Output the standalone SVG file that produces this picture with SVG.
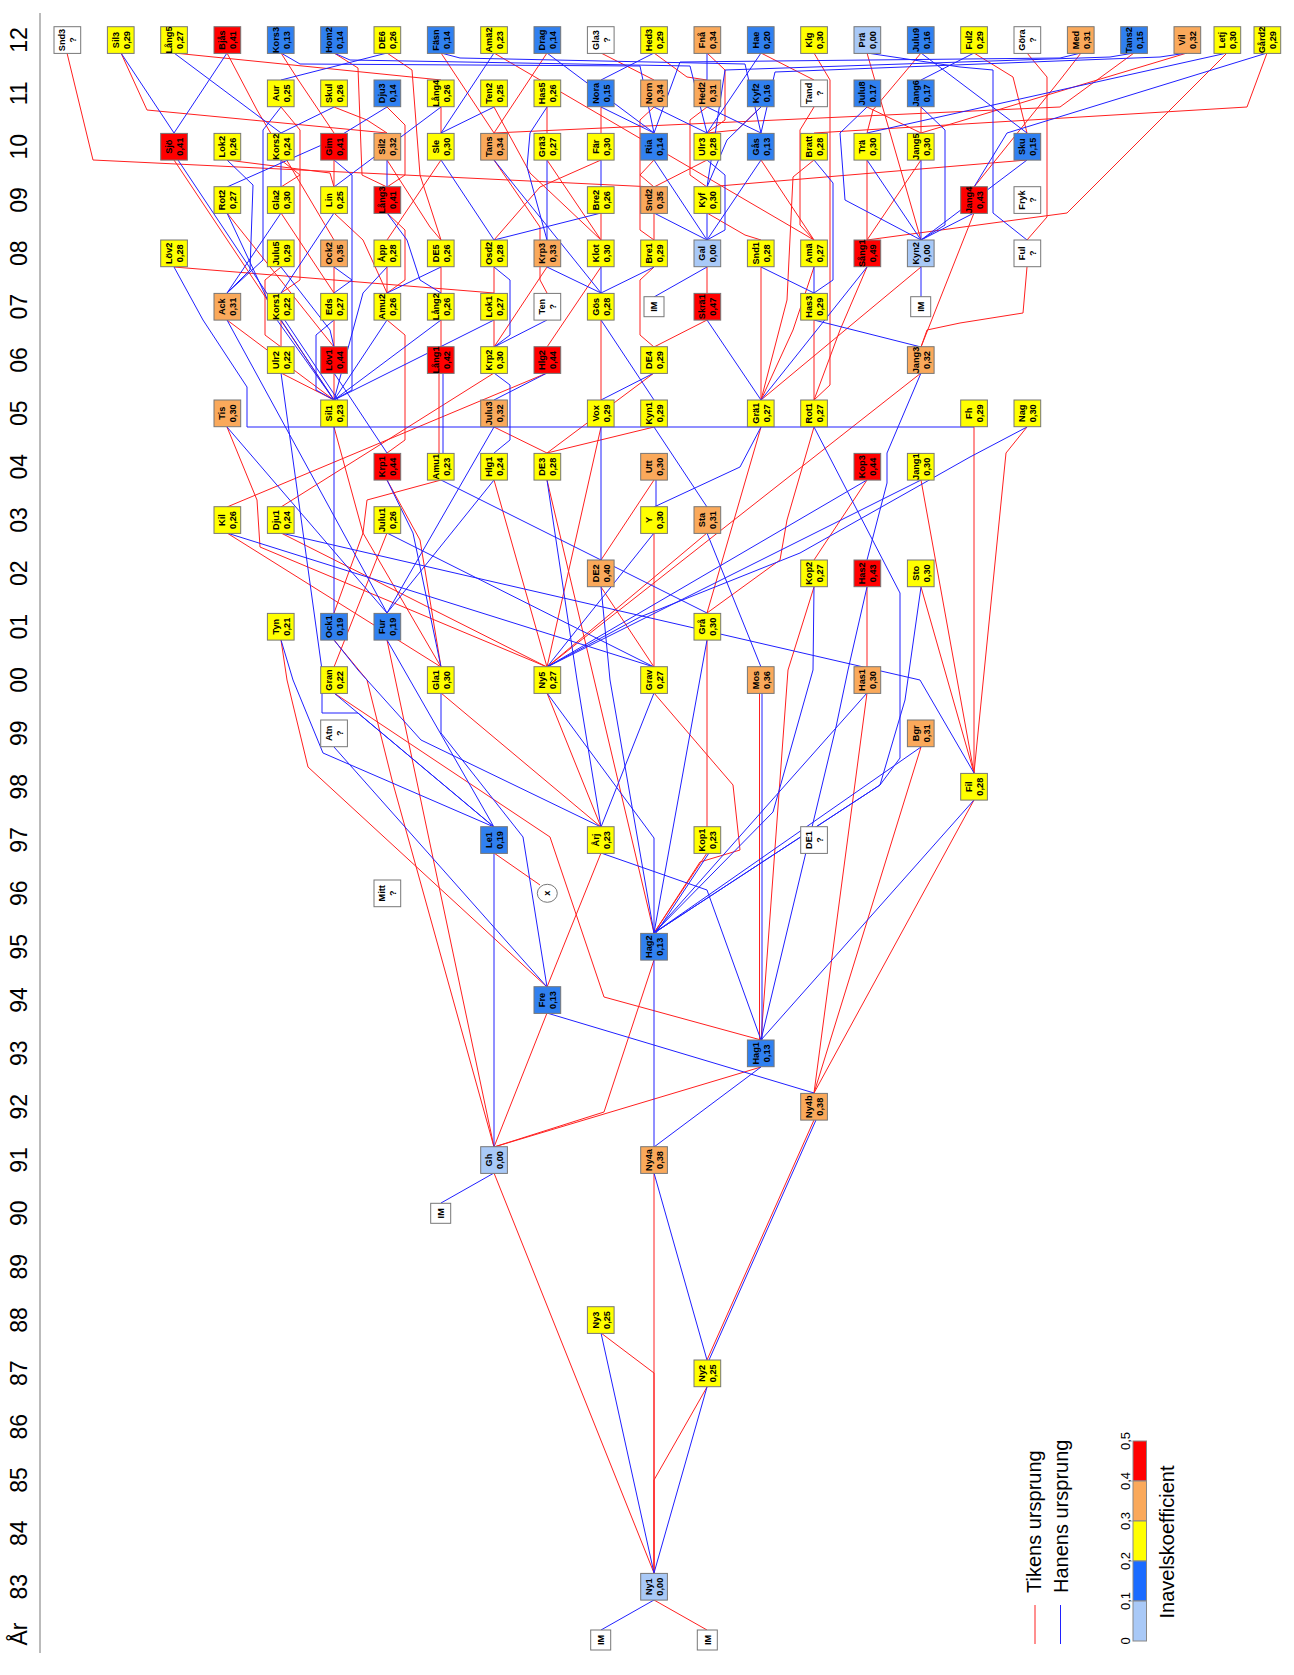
<svg xmlns="http://www.w3.org/2000/svg" width="1294" height="1675" viewBox="0 0 1294 1675">
<style>
.r{fill:none;stroke:#ff2020;stroke-width:1}
.b{fill:none;stroke:#2020ff;stroke-width:1}
.n rect,.n ellipse{stroke:#777;stroke-width:1}
.c0{fill:#a9c9f7}.c1{fill:#3080f0}.c2{fill:#ffff00}.c3{fill:#faa95b}.c4{fill:#ff0000}.cw{fill:#ffffff}
.t{font-family:"Liberation Sans",Arial,sans-serif;font-weight:bold;font-size:9.2px;text-anchor:middle;fill:#000}
.yr{font-family:"Liberation Sans",Arial,sans-serif;font-size:23px;text-anchor:middle;fill:#000}
.lg{font-family:"Liberation Sans",Arial,sans-serif;font-size:20px;fill:#000}
.sc{font-family:"Liberation Sans",Arial,sans-serif;font-size:13px;text-anchor:middle;fill:#000}
</style>
<defs>
<rect id="bx" x="-13.3" y="-13.3" width="26.7" height="26.7"/>
</defs>
<rect width="1294" height="1675" fill="#fff"/>
<g id="axis">
<line x1="40" y1="13" x2="40" y2="1653" stroke="#bbb" stroke-width="2"/>
<text class="yr" transform="translate(26.7,40) rotate(-90)">12</text>
<text class="yr" transform="translate(26.7,93.3) rotate(-90)">11</text>
<text class="yr" transform="translate(26.7,146.7) rotate(-90)">10</text>
<text class="yr" transform="translate(26.7,200) rotate(-90)">09</text>
<text class="yr" transform="translate(26.7,253.3) rotate(-90)">08</text>
<text class="yr" transform="translate(26.7,306.7) rotate(-90)">07</text>
<text class="yr" transform="translate(26.7,360) rotate(-90)">06</text>
<text class="yr" transform="translate(26.7,413.3) rotate(-90)">05</text>
<text class="yr" transform="translate(26.7,466.7) rotate(-90)">04</text>
<text class="yr" transform="translate(26.7,520) rotate(-90)">03</text>
<text class="yr" transform="translate(26.7,573.3) rotate(-90)">02</text>
<text class="yr" transform="translate(26.7,626.7) rotate(-90)">01</text>
<text class="yr" transform="translate(26.7,680) rotate(-90)">00</text>
<text class="yr" transform="translate(26.7,733.3) rotate(-90)">99</text>
<text class="yr" transform="translate(26.7,786.7) rotate(-90)">98</text>
<text class="yr" transform="translate(26.7,840) rotate(-90)">97</text>
<text class="yr" transform="translate(26.7,893.3) rotate(-90)">96</text>
<text class="yr" transform="translate(26.7,946.7) rotate(-90)">95</text>
<text class="yr" transform="translate(26.7,1000) rotate(-90)">94</text>
<text class="yr" transform="translate(26.7,1053.3) rotate(-90)">93</text>
<text class="yr" transform="translate(26.7,1106.7) rotate(-90)">92</text>
<text class="yr" transform="translate(26.7,1160) rotate(-90)">91</text>
<text class="yr" transform="translate(26.7,1213.3) rotate(-90)">90</text>
<text class="yr" transform="translate(26.7,1266.7) rotate(-90)">89</text>
<text class="yr" transform="translate(26.7,1320) rotate(-90)">88</text>
<text class="yr" transform="translate(26.7,1373.3) rotate(-90)">87</text>
<text class="yr" transform="translate(26.7,1426.7) rotate(-90)">86</text>
<text class="yr" transform="translate(26.7,1480) rotate(-90)">85</text>
<text class="yr" transform="translate(26.7,1533.3) rotate(-90)">84</text>
<text class="yr" transform="translate(26.7,1586.7) rotate(-90)">83</text>
<text class="yr" transform="translate(26.7,1634) rotate(-90)">År</text>
</g>
<g id="connectors">
<polyline class="r" points="67,53 93,160 654,187"/>
<polyline class="r" points="121,53 147,110 387,133"/>
<polyline class="r" points="174,53 441,80"/>
<polyline class="r" points="227,53 257,110 334,240"/>
<polyline class="r" points="281,53 297,78 334,133"/>
<polyline class="r" points="334,53 358,68 362,175 387,187"/>
<polyline class="r" points="387,53 412,70 420,175 441,240"/>
<polyline class="r" points="441,53 494,133"/>
<polyline class="r" points="494,53 814,240"/>
<polyline class="r" points="547,53 494,133"/>
<polyline class="r" points="601,53 654,80"/>
<polyline class="r" points="654,53 687,77 707,80"/>
<polyline class="r" points="707,53 725,70 725,120 707,133"/>
<polyline class="r" points="761,53 814,80"/>
<polyline class="r" points="814,53 830,80 830,385 814,400"/>
<polyline class="r" points="867,53 921,240"/>
<polyline class="r" points="921,53 873,110 867,133"/>
<polyline class="r" points="974,53 1013,77 1027,133"/>
<polyline class="r" points="1027,53 1047,77 1047,217 1027,240"/>
<polyline class="r" points="1081,53 1060,80 974,187"/>
<polyline class="r" points="1134,53 1060,107 494,133"/>
<polyline class="r" points="1187,53 921,133"/>
<polyline class="r" points="1227,53 1067,213 867,240"/>
<polyline class="r" points="1267,53 1247,107 814,133"/>
<polyline class="r" points="281,107 300,130 300,175 281,187"/>
<polyline class="r" points="334,107 367,120 387,133"/>
<polyline class="r" points="387,107 405,125 405,175 387,187"/>
<polyline class="r" points="441,107 441,133"/>
<polyline class="r" points="494,107 530,173 601,240"/>
<polyline class="r" points="547,107 547,133"/>
<polyline class="r" points="601,107 601,133"/>
<polyline class="r" points="654,107 640,120 640,175 654,187"/>
<polyline class="r" points="707,107 690,120 690,175 707,187"/>
<polyline class="r" points="761,107 737,130 707,133"/>
<polyline class="r" points="814,107 800,130 800,225 814,240"/>
<polyline class="r" points="867,107 921,133"/>
<polyline class="r" points="921,107 921,133"/>
<polyline class="r" points="174,160 334,400"/>
<polyline class="r" points="227,160 330,173 334,187"/>
<polyline class="r" points="281,160 300,175 300,280 281,293"/>
<polyline class="r" points="334,160 334,187"/>
<polyline class="r" points="387,160 430,227 441,240"/>
<polyline class="r" points="441,160 387,240"/>
<polyline class="r" points="494,160 540,227 540,280 547,293"/>
<polyline class="r" points="547,160 601,240"/>
<polyline class="r" points="601,160 540,187 494,240"/>
<polyline class="r" points="654,160 640,175 640,230 654,240"/>
<polyline class="r" points="707,160 654,187"/>
<polyline class="r" points="761,160 814,240"/>
<polyline class="r" points="814,160 793,177 787,300 761,400"/>
<polyline class="r" points="867,160 867,240"/>
<polyline class="r" points="921,160 867,240"/>
<polyline class="r" points="1027,160 707,187"/>
<polyline class="r" points="227,213 334,347"/>
<polyline class="r" points="281,213 334,293"/>
<polyline class="r" points="334,213 363,240 387,293"/>
<polyline class="r" points="387,213 405,230 405,280 387,293"/>
<polyline class="r" points="601,213 601,240"/>
<polyline class="r" points="654,213 654,240"/>
<polyline class="r" points="707,213 745,235 761,240"/>
<polyline class="r" points="974,213 921,347"/>
<polyline class="r" points="174,267 494,293"/>
<polyline class="r" points="281,267 265,280 265,335 281,347"/>
<polyline class="r" points="334,267 334,293"/>
<polyline class="r" points="387,267 387,293"/>
<polyline class="r" points="441,267 441,293"/>
<polyline class="r" points="494,267 494,293"/>
<polyline class="r" points="547,267 494,347"/>
<polyline class="r" points="601,267 547,347"/>
<polyline class="r" points="654,267 640,280 640,335 654,347"/>
<polyline class="r" points="707,267 707,293"/>
<polyline class="r" points="761,267 761,400"/>
<polyline class="r" points="814,267 793,330 761,400"/>
<polyline class="r" points="867,267 840,330 814,400"/>
<polyline class="r" points="921,267 761,400"/>
<polyline class="r" points="1027,267 1023,313 960,323 927,330 921,347"/>
<polyline class="r" points="227,320 334,400"/>
<polyline class="r" points="281,320 281,347"/>
<polyline class="r" points="334,320 334,347"/>
<polyline class="r" points="387,320 405,335 405,440 387,453"/>
<polyline class="r" points="441,320 441,347"/>
<polyline class="r" points="494,320 494,347"/>
<polyline class="r" points="601,320 601,400"/>
<polyline class="r" points="707,320 654,347"/>
<polyline class="r" points="814,320 814,400"/>
<polyline class="r" points="281,373 334,400"/>
<polyline class="r" points="334,373 334,400"/>
<polyline class="r" points="439,373 439,453"/>
<polyline class="r" points="494,373 281,507"/>
<polyline class="r" points="547,373 227,507"/>
<polyline class="r" points="654,373 547,453"/>
<polyline class="r" points="921,373 547,667"/>
<polyline class="r" points="227,427 257,500 260,547 547,667"/>
<polyline class="r" points="334,427 363,533 441,667"/>
<polyline class="r" points="494,427 547,453"/>
<polyline class="r" points="601,427 547,667"/>
<polyline class="r" points="654,427 547,453"/>
<polyline class="r" points="761,427 707,613"/>
<polyline class="r" points="814,427 787,520 780,560 707,613"/>
<polyline class="r" points="974,427 974,773"/>
<polyline class="r" points="1027,427 1006,453 974,773"/>
<polyline class="r" points="387,480 420,540 441,667"/>
<polyline class="r" points="441,480 367,500 363,533 334,613"/>
<polyline class="r" points="494,480 547,667"/>
<polyline class="r" points="547,480 654,933"/>
<polyline class="r" points="654,480 601,560"/>
<polyline class="r" points="867,480 814,560"/>
<polyline class="r" points="921,480 974,773"/>
<polyline class="r" points="227,533 441,667"/>
<polyline class="r" points="281,533 547,667"/>
<polyline class="r" points="387,533 334,667"/>
<polyline class="r" points="654,533 654,667"/>
<polyline class="r" points="707,533 547,667"/>
<polyline class="r" points="601,587 654,667"/>
<polyline class="r" points="814,587 788,670 761,1040"/>
<polyline class="r" points="867,587 867,667"/>
<polyline class="r" points="921,587 974,773"/>
<polyline class="r" points="281,640 287,680 308,767 547,987"/>
<polyline class="r" points="334,640 367,680 392,780 494,1147"/>
<polyline class="r" points="387,640 494,1147"/>
<polyline class="r" points="707,640 707,827"/>
<polyline class="r" points="334,693 550,837 604,997 761,1040"/>
<polyline class="r" points="441,693 601,827"/>
<polyline class="r" points="547,693 601,827"/>
<polyline class="r" points="654,693 733,785 740,850 700,862 654,933"/>
<polyline class="r" points="759.5,693 759.5,1040"/>
<polyline class="r" points="867,693 814,1093"/>
<polyline class="r" points="921,747 814,1093"/>
<polyline class="r" points="974,800 814,1093"/>
<polyline class="r" points="494,853 540,885"/>
<polyline class="r" points="601,853 547,987"/>
<polyline class="r" points="707,853 654,933"/>
<polyline class="r" points="654,960 604,1112 494,1147"/>
<polyline class="r" points="547,1013 494,1147"/>
<polyline class="r" points="761,1067 494,1147"/>
<polyline class="r" points="814,1120 707,1360"/>
<polyline class="r" points="494,1173 654,1573"/>
<polyline class="r" points="654,1173 654,1573"/>
<polyline class="r" points="601,1333 654,1373 654,1573"/>
<polyline class="r" points="707,1387 654,1480 654,1573"/>
<polyline class="r" points="654,1600 707,1630"/>
<polyline class="b" points="121,53 174,133"/>
<polyline class="b" points="174,53 281,133"/>
<polyline class="b" points="227,53 174,133"/>
<polyline class="b" points="281,53 300,64 640,66 654,133"/>
<polyline class="b" points="334,53 350,60 690,66 707,133"/>
<polyline class="b" points="387,53 281,80"/>
<polyline class="b" points="441,53 460,58 745,64 761,133"/>
<polyline class="b" points="547,53 654,133"/>
<polyline class="b" points="654,53 601,80"/>
<polyline class="b" points="707,53 707,80"/>
<polyline class="b" points="761,53 707,133"/>
<polyline class="b" points="867,53 960,67 993,70 993,213 1027,240"/>
<polyline class="b" points="921,53 1027,133"/>
<polyline class="b" points="974,53 921,80"/>
<polyline class="b" points="1081,53 1060,58 680,62 654,133"/>
<polyline class="b" points="1134,53 1110,57 725,70 707,187"/>
<polyline class="b" points="1187,53 1160,57 775,72 761,133"/>
<polyline class="b" points="1227,53 867,133"/>
<polyline class="b" points="1267,53 1007,133 974,187"/>
<polyline class="b" points="494,53 441,133"/>
<polyline class="b" points="281,107 263,130 263,260 227,293"/>
<polyline class="b" points="334,107 281,133"/>
<polyline class="b" points="387,107 333,140 227,187"/>
<polyline class="b" points="441,107 334,187"/>
<polyline class="b" points="494,107 441,133"/>
<polyline class="b" points="547,107 530,133 527,167 547,240"/>
<polyline class="b" points="601,107 654,133"/>
<polyline class="b" points="654,107 707,133"/>
<polyline class="b" points="707,107 761,133"/>
<polyline class="b" points="761,107 727,140 707,187"/>
<polyline class="b" points="867,107 840,133 845,200 921,240"/>
<polyline class="b" points="921,107 945,130 945,225 921,240"/>
<polyline class="b" points="178,160 338,400"/>
<polyline class="b" points="227,160 253,185 250,270 227,293"/>
<polyline class="b" points="281,160 281,187"/>
<polyline class="b" points="334,160 352,175 352,280 334,293"/>
<polyline class="b" points="387,160 387,187"/>
<polyline class="b" points="441,160 494,240"/>
<polyline class="b" points="494,160 601,293"/>
<polyline class="b" points="547,160 547,240"/>
<polyline class="b" points="601,160 601,187"/>
<polyline class="b" points="654,160 707,240"/>
<polyline class="b" points="707,160 725,175 725,230 707,240"/>
<polyline class="b" points="761,160 707,240"/>
<polyline class="b" points="814,160 833,183 833,280 814,293"/>
<polyline class="b" points="867,160 921,240"/>
<polyline class="b" points="921,160 921,240"/>
<polyline class="b" points="1027,160 921,240"/>
<polyline class="b" points="227,213 277,320 334,400"/>
<polyline class="b" points="281,213 227,293"/>
<polyline class="b" points="334,213 281,293"/>
<polyline class="b" points="387,213 407,240 420,280 441,293"/>
<polyline class="b" points="601,213 494,240"/>
<polyline class="b" points="654,213 707,240"/>
<polyline class="b" points="707,213 707,240"/>
<polyline class="b" points="974,213 921,240"/>
<polyline class="b" points="174,267 203,320 247,387 247,427 974,427"/>
<polyline class="b" points="281,267 330,330 334,347"/>
<polyline class="b" points="334,267 352,280 352,390 334,400"/>
<polyline class="b" points="387,267 363,293 334,400"/>
<polyline class="b" points="441,267 387,293"/>
<polyline class="b" points="494,267 510,280 510,335 494,347"/>
<polyline class="b" points="547,267 601,293"/>
<polyline class="b" points="601,267 601,293"/>
<polyline class="b" points="654,267 601,293"/>
<polyline class="b" points="707,267 654,297"/>
<polyline class="b" points="761,267 814,293"/>
<polyline class="b" points="814,267 814,293"/>
<polyline class="b" points="867,267 761,400"/>
<polyline class="b" points="921,267 921,297"/>
<polyline class="b" points="227,320 387,613"/>
<polyline class="b" points="281,320 334,400"/>
<polyline class="b" points="334,320 316,335 316,390 334,400"/>
<polyline class="b" points="387,320 334,400"/>
<polyline class="b" points="441,320 334,400"/>
<polyline class="b" points="494,320 334,400"/>
<polyline class="b" points="547,320 494,347"/>
<polyline class="b" points="601,320 654,400"/>
<polyline class="b" points="707,320 761,400"/>
<polyline class="b" points="814,320 921,347"/>
<polyline class="b" points="281,373 322,670 322,713 358,713 494,827"/>
<polyline class="b" points="334,373 387,453"/>
<polyline class="b" points="443,373 443,453"/>
<polyline class="b" points="494,373 510,385 510,440 494,453"/>
<polyline class="b" points="547,373 494,400"/>
<polyline class="b" points="654,373 601,400"/>
<polyline class="b" points="921,373 887,453 887,483 867,560"/>
<polyline class="b" points="227,427 387,613"/>
<polyline class="b" points="334,427 334,613"/>
<polyline class="b" points="494,427 387,613"/>
<polyline class="b" points="601,427 601,560"/>
<polyline class="b" points="654,427 707,507"/>
<polyline class="b" points="761,427 740,467 654,507"/>
<polyline class="b" points="814,427 900,593 900,758 880,785 654,933"/>
<polyline class="b" points="1027,427 970,457 800,553 640,617 547,667"/>
<polyline class="b" points="387,480 413,533 441,667"/>
<polyline class="b" points="441,480 707,613"/>
<polyline class="b" points="494,480 387,613"/>
<polyline class="b" points="547,480 577,680 601,827"/>
<polyline class="b" points="656,480 656,507"/>
<polyline class="b" points="867,480 547,667"/>
<polyline class="b" points="921,480 547,667"/>
<polyline class="b" points="227,533 654,667"/>
<polyline class="b" points="281,533 920,680 974,773"/>
<polyline class="b" points="387,533 654,667"/>
<polyline class="b" points="654,533 547,667"/>
<polyline class="b" points="707,533 761,667"/>
<polyline class="b" points="601,587 610,680 654,933"/>
<polyline class="b" points="814,587 813,670 773,812 654,933"/>
<polyline class="b" points="867,587 848,670 836,727 761,1040"/>
<polyline class="b" points="921,587 905,700 880,785 654,933"/>
<polyline class="b" points="281,640 293,680 323,753 494,827"/>
<polyline class="b" points="334,640 358,670 421,740 601,827"/>
<polyline class="b" points="387,640 494,827"/>
<polyline class="b" points="707,640 654,933"/>
<polyline class="b" points="334,693 494,827"/>
<polyline class="b" points="441,693 441,733 523,837 547,987"/>
<polyline class="b" points="547,693 654,838 654,933"/>
<polyline class="b" points="654,693 601,827"/>
<polyline class="b" points="762,693 762,1040"/>
<polyline class="b" points="867,693 654,933"/>
<polyline class="b" points="334,747 547,987"/>
<polyline class="b" points="921,747 654,933"/>
<polyline class="b" points="974,800 761,1040"/>
<polyline class="b" points="494,853 494,1147"/>
<polyline class="b" points="601,853 707,890 761,1040"/>
<polyline class="b" points="709,853 656,933"/>
<polyline class="b" points="654,960 654,1147"/>
<polyline class="b" points="547,1013 814,1093"/>
<polyline class="b" points="761,1067 654,1147"/>
<polyline class="b" points="816,1120 709,1360"/>
<polyline class="b" points="494,1173 441,1203"/>
<polyline class="b" points="654,1173 707,1360"/>
<polyline class="b" points="601,1333 654,1573"/>
<polyline class="b" points="707,1387 654,1573"/>
<polyline class="b" points="654,1600 601,1630"/>
</g>
<g id="nodes">
<g id="n_Snd3" class="n" transform="translate(67.3,40)"><use href="#bx" class="cw" stroke="#777"/><text class="t" transform="rotate(-90)"><tspan x="0" y="-2">Snd3</tspan><tspan x="0" y="9">?</tspan></text></g>
<g id="n_Sil3" class="n" transform="translate(120.7,40)"><use href="#bx" class="c2" stroke="#777"/><text class="t" transform="rotate(-90)"><tspan x="0" y="-2">Sil3</tspan><tspan x="0" y="9">0,29</tspan></text></g>
<g id="n_Lang5" class="n" transform="translate(174,40)"><use href="#bx" class="c2" stroke="#777"/><text class="t" transform="rotate(-90)"><tspan x="0" y="-2">Lång5</tspan><tspan x="0" y="9">0,27</tspan></text></g>
<g id="n_Bjas" class="n" transform="translate(227.3,40)"><use href="#bx" class="c4" stroke="#777"/><text class="t" transform="rotate(-90)"><tspan x="0" y="-2">Bjås</tspan><tspan x="0" y="9">0,41</tspan></text></g>
<g id="n_Kors3" class="n" transform="translate(280.7,40)"><use href="#bx" class="c1" stroke="#777"/><text class="t" transform="rotate(-90)"><tspan x="0" y="-2">Kors3</tspan><tspan x="0" y="9">0,13</tspan></text></g>
<g id="n_Hom2" class="n" transform="translate(334,40)"><use href="#bx" class="c1" stroke="#777"/><text class="t" transform="rotate(-90)"><tspan x="0" y="-2">Hom2</tspan><tspan x="0" y="9">0,14</tspan></text></g>
<g id="n_DE6" class="n" transform="translate(387.3,40)"><use href="#bx" class="c2" stroke="#777"/><text class="t" transform="rotate(-90)"><tspan x="0" y="-2">DE6</tspan><tspan x="0" y="9">0,26</tspan></text></g>
<g id="n_Fasn" class="n" transform="translate(440.7,40)"><use href="#bx" class="c1" stroke="#777"/><text class="t" transform="rotate(-90)"><tspan x="0" y="-2">Fäsn</tspan><tspan x="0" y="9">0,14</tspan></text></g>
<g id="n_Ama2" class="n" transform="translate(494,40)"><use href="#bx" class="c2" stroke="#777"/><text class="t" transform="rotate(-90)"><tspan x="0" y="-2">Amä2</tspan><tspan x="0" y="9">0,23</tspan></text></g>
<g id="n_Drag" class="n" transform="translate(547.3,40)"><use href="#bx" class="c1" stroke="#777"/><text class="t" transform="rotate(-90)"><tspan x="0" y="-2">Drag</tspan><tspan x="0" y="9">0,14</tspan></text></g>
<g id="n_Gla3" class="n" transform="translate(600.7,40)"><use href="#bx" class="cw" stroke="#777"/><text class="t" transform="rotate(-90)"><tspan x="0" y="-2">Gla3</tspan><tspan x="0" y="9">?</tspan></text></g>
<g id="n_Hed3" class="n" transform="translate(654,40)"><use href="#bx" class="c2" stroke="#777"/><text class="t" transform="rotate(-90)"><tspan x="0" y="-2">Hed3</tspan><tspan x="0" y="9">0,29</tspan></text></g>
<g id="n_Fna" class="n" transform="translate(707.3,40)"><use href="#bx" class="c3" stroke="#777"/><text class="t" transform="rotate(-90)"><tspan x="0" y="-2">Fnå</tspan><tspan x="0" y="9">0,34</tspan></text></g>
<g id="n_Hae" class="n" transform="translate(760.7,40)"><use href="#bx" class="c1" stroke="#777"/><text class="t" transform="rotate(-90)"><tspan x="0" y="-2">Hae</tspan><tspan x="0" y="9">0,20</tspan></text></g>
<g id="n_Klg" class="n" transform="translate(814,40)"><use href="#bx" class="c2" stroke="#777"/><text class="t" transform="rotate(-90)"><tspan x="0" y="-2">Klg</tspan><tspan x="0" y="9">0,30</tspan></text></g>
<g id="n_Pra" class="n" transform="translate(867.3,40)"><use href="#bx" class="c0" stroke="#777"/><text class="t" transform="rotate(-90)"><tspan x="0" y="-2">Prä</tspan><tspan x="0" y="9">0,00</tspan></text></g>
<g id="n_Julu9" class="n" transform="translate(920.7,40)"><use href="#bx" class="c1" stroke="#777"/><text class="t" transform="rotate(-90)"><tspan x="0" y="-2">Julu9</tspan><tspan x="0" y="9">0,16</tspan></text></g>
<g id="n_Ful2" class="n" transform="translate(974,40)"><use href="#bx" class="c2" stroke="#777"/><text class="t" transform="rotate(-90)"><tspan x="0" y="-2">Ful2</tspan><tspan x="0" y="9">0,29</tspan></text></g>
<g id="n_Gora" class="n" transform="translate(1027.3,40)"><use href="#bx" class="cw" stroke="#777"/><text class="t" transform="rotate(-90)"><tspan x="0" y="-2">Göra</tspan><tspan x="0" y="9">?</tspan></text></g>
<g id="n_Med" class="n" transform="translate(1080.7,40)"><use href="#bx" class="c3" stroke="#777"/><text class="t" transform="rotate(-90)"><tspan x="0" y="-2">Med</tspan><tspan x="0" y="9">0,31</tspan></text></g>
<g id="n_Tans2" class="n" transform="translate(1134,40)"><use href="#bx" class="c1" stroke="#777"/><text class="t" transform="rotate(-90)"><tspan x="0" y="-2">Tans2</tspan><tspan x="0" y="9">0,15</tspan></text></g>
<g id="n_Vil" class="n" transform="translate(1187.3,40)"><use href="#bx" class="c3" stroke="#777"/><text class="t" transform="rotate(-90)"><tspan x="0" y="-2">Vil</tspan><tspan x="0" y="9">0,32</tspan></text></g>
<g id="n_Letj" class="n" transform="translate(1227.3,40)"><use href="#bx" class="c2" stroke="#777"/><text class="t" transform="rotate(-90)"><tspan x="0" y="-2">Letj</tspan><tspan x="0" y="9">0,30</tspan></text></g>
<g id="n_Gard2" class="n" transform="translate(1267.3,40)"><use href="#bx" class="c2" stroke="#777"/><text class="t" transform="rotate(-90)"><tspan x="0" y="-2">Gård2</tspan><tspan x="0" y="9">0,29</tspan></text></g>
<g id="n_Aur" class="n" transform="translate(280.7,93.3)"><use href="#bx" class="c2" stroke="#777"/><text class="t" transform="rotate(-90)"><tspan x="0" y="-2">Aur</tspan><tspan x="0" y="9">0,25</tspan></text></g>
<g id="n_Skul" class="n" transform="translate(334,93.3)"><use href="#bx" class="c2" stroke="#777"/><text class="t" transform="rotate(-90)"><tspan x="0" y="-2">Skul</tspan><tspan x="0" y="9">0,26</tspan></text></g>
<g id="n_Dju3" class="n" transform="translate(387.3,93.3)"><use href="#bx" class="c1" stroke="#777"/><text class="t" transform="rotate(-90)"><tspan x="0" y="-2">Dju3</tspan><tspan x="0" y="9">0,14</tspan></text></g>
<g id="n_Lang4" class="n" transform="translate(440.7,93.3)"><use href="#bx" class="c2" stroke="#777"/><text class="t" transform="rotate(-90)"><tspan x="0" y="-2">Lång4</tspan><tspan x="0" y="9">0,26</tspan></text></g>
<g id="n_Ten2" class="n" transform="translate(494,93.3)"><use href="#bx" class="c2" stroke="#777"/><text class="t" transform="rotate(-90)"><tspan x="0" y="-2">Ten2</tspan><tspan x="0" y="9">0,25</tspan></text></g>
<g id="n_Has5" class="n" transform="translate(547.3,93.3)"><use href="#bx" class="c2" stroke="#777"/><text class="t" transform="rotate(-90)"><tspan x="0" y="-2">Has5</tspan><tspan x="0" y="9">0,26</tspan></text></g>
<g id="n_Nora" class="n" transform="translate(600.7,93.3)"><use href="#bx" class="c1" stroke="#777"/><text class="t" transform="rotate(-90)"><tspan x="0" y="-2">Nora</tspan><tspan x="0" y="9">0,15</tspan></text></g>
<g id="n_Norn" class="n" transform="translate(654,93.3)"><use href="#bx" class="c3" stroke="#777"/><text class="t" transform="rotate(-90)"><tspan x="0" y="-2">Norn</tspan><tspan x="0" y="9">0,34</tspan></text></g>
<g id="n_Hed2" class="n" transform="translate(707.3,93.3)"><use href="#bx" class="c3" stroke="#777"/><text class="t" transform="rotate(-90)"><tspan x="0" y="-2">Hed2</tspan><tspan x="0" y="9">0,31</tspan></text></g>
<g id="n_Kyf2" class="n" transform="translate(760.7,93.3)"><use href="#bx" class="c1" stroke="#777"/><text class="t" transform="rotate(-90)"><tspan x="0" y="-2">Kyf2</tspan><tspan x="0" y="9">0,16</tspan></text></g>
<g id="n_Tand" class="n" transform="translate(814,93.3)"><use href="#bx" class="cw" stroke="#777"/><text class="t" transform="rotate(-90)"><tspan x="0" y="-2">Tand</tspan><tspan x="0" y="9">?</tspan></text></g>
<g id="n_Julu8" class="n" transform="translate(867.3,93.3)"><use href="#bx" class="c1" stroke="#777"/><text class="t" transform="rotate(-90)"><tspan x="0" y="-2">Julu8</tspan><tspan x="0" y="9">0.17</tspan></text></g>
<g id="n_Jang6" class="n" transform="translate(920.7,93.3)"><use href="#bx" class="c1" stroke="#777"/><text class="t" transform="rotate(-90)"><tspan x="0" y="-2">Jang6</tspan><tspan x="0" y="9">0,17</tspan></text></g>
<g id="n_Sjo" class="n" transform="translate(174,146.7)"><use href="#bx" class="c4" stroke="#777"/><text class="t" transform="rotate(-90)"><tspan x="0" y="-2">Sjö</tspan><tspan x="0" y="9">0,41</tspan></text></g>
<g id="n_Lok2" class="n" transform="translate(227.3,146.7)"><use href="#bx" class="c2" stroke="#777"/><text class="t" transform="rotate(-90)"><tspan x="0" y="-2">Lok2</tspan><tspan x="0" y="9">0,26</tspan></text></g>
<g id="n_Kors2" class="n" transform="translate(280.7,146.7)"><use href="#bx" class="c2" stroke="#777"/><text class="t" transform="rotate(-90)"><tspan x="0" y="-2">Kors2</tspan><tspan x="0" y="9">0,24</tspan></text></g>
<g id="n_Gim" class="n" transform="translate(334,146.7)"><use href="#bx" class="c4" stroke="#777"/><text class="t" transform="rotate(-90)"><tspan x="0" y="-2">Gim</tspan><tspan x="0" y="9">0,41</tspan></text></g>
<g id="n_Sil2" class="n" transform="translate(387.3,146.7)"><use href="#bx" class="c3" stroke="#777"/><text class="t" transform="rotate(-90)"><tspan x="0" y="-2">Sil2</tspan><tspan x="0" y="9">0,32</tspan></text></g>
<g id="n_Sle" class="n" transform="translate(440.7,146.7)"><use href="#bx" class="c2" stroke="#777"/><text class="t" transform="rotate(-90)"><tspan x="0" y="-2">Sle</tspan><tspan x="0" y="9">0,30</tspan></text></g>
<g id="n_Tans" class="n" transform="translate(494,146.7)"><use href="#bx" class="c3" stroke="#777"/><text class="t" transform="rotate(-90)"><tspan x="0" y="-2">Tans</tspan><tspan x="0" y="9">0,34</tspan></text></g>
<g id="n_Gra3" class="n" transform="translate(547.3,146.7)"><use href="#bx" class="c2" stroke="#777"/><text class="t" transform="rotate(-90)"><tspan x="0" y="-2">Grä3</tspan><tspan x="0" y="9">0,27</tspan></text></g>
<g id="n_Far" class="n" transform="translate(600.7,146.7)"><use href="#bx" class="c2" stroke="#777"/><text class="t" transform="rotate(-90)"><tspan x="0" y="-2">Fär</tspan><tspan x="0" y="9">0,30</tspan></text></g>
<g id="n_Ria" class="n" transform="translate(654,146.7)"><use href="#bx" class="c1" stroke="#777"/><text class="t" transform="rotate(-90)"><tspan x="0" y="-2">Ria</tspan><tspan x="0" y="9">0,14</tspan></text></g>
<g id="n_Ulr3" class="n" transform="translate(707.3,146.7)"><use href="#bx" class="c2" stroke="#777"/><text class="t" transform="rotate(-90)"><tspan x="0" y="-2">Ulr3</tspan><tspan x="0" y="9">0,28</tspan></text></g>
<g id="n_Gas" class="n" transform="translate(760.7,146.7)"><use href="#bx" class="c1" stroke="#777"/><text class="t" transform="rotate(-90)"><tspan x="0" y="-2">Gås</tspan><tspan x="0" y="9">0,13</tspan></text></g>
<g id="n_Bratt" class="n" transform="translate(814,146.7)"><use href="#bx" class="c2" stroke="#777"/><text class="t" transform="rotate(-90)"><tspan x="0" y="-2">Bratt</tspan><tspan x="0" y="9">0,28</tspan></text></g>
<g id="n_Tra" class="n" transform="translate(867.3,146.7)"><use href="#bx" class="c2" stroke="#777"/><text class="t" transform="rotate(-90)"><tspan x="0" y="-2">Trä</tspan><tspan x="0" y="9">0,30</tspan></text></g>
<g id="n_Jang5" class="n" transform="translate(920.7,146.7)"><use href="#bx" class="c2" stroke="#777"/><text class="t" transform="rotate(-90)"><tspan x="0" y="-2">Jang5</tspan><tspan x="0" y="9">0,30</tspan></text></g>
<g id="n_Sku" class="n" transform="translate(1027.3,146.7)"><use href="#bx" class="c1" stroke="#777"/><text class="t" transform="rotate(-90)"><tspan x="0" y="-2">Sku</tspan><tspan x="0" y="9">0,15</tspan></text></g>
<g id="n_Rot2" class="n" transform="translate(227.3,200)"><use href="#bx" class="c2" stroke="#777"/><text class="t" transform="rotate(-90)"><tspan x="0" y="-2">Rot2</tspan><tspan x="0" y="9">0,27</tspan></text></g>
<g id="n_Gla2" class="n" transform="translate(280.7,200)"><use href="#bx" class="c2" stroke="#777"/><text class="t" transform="rotate(-90)"><tspan x="0" y="-2">Gla2</tspan><tspan x="0" y="9">0,30</tspan></text></g>
<g id="n_Lin" class="n" transform="translate(334,200)"><use href="#bx" class="c2" stroke="#777"/><text class="t" transform="rotate(-90)"><tspan x="0" y="-2">Lin</tspan><tspan x="0" y="9">0,25</tspan></text></g>
<g id="n_Lang3" class="n" transform="translate(387.3,200)"><use href="#bx" class="c4" stroke="#777"/><text class="t" transform="rotate(-90)"><tspan x="0" y="-2">Lång3</tspan><tspan x="0" y="9">0,41</tspan></text></g>
<g id="n_Bre2" class="n" transform="translate(600.7,200)"><use href="#bx" class="c2" stroke="#777"/><text class="t" transform="rotate(-90)"><tspan x="0" y="-2">Bre2</tspan><tspan x="0" y="9">0,26</tspan></text></g>
<g id="n_Snd2" class="n" transform="translate(654,200)"><use href="#bx" class="c3" stroke="#777"/><text class="t" transform="rotate(-90)"><tspan x="0" y="-2">Snd2</tspan><tspan x="0" y="9">0,35</tspan></text></g>
<g id="n_Kyf" class="n" transform="translate(707.3,200)"><use href="#bx" class="c2" stroke="#777"/><text class="t" transform="rotate(-90)"><tspan x="0" y="-2">Kyf</tspan><tspan x="0" y="9">0,30</tspan></text></g>
<g id="n_Jang4" class="n" transform="translate(974,200)"><use href="#bx" class="c4" stroke="#777"/><text class="t" transform="rotate(-90)"><tspan x="0" y="-2">Jang4</tspan><tspan x="0" y="9">0,43</tspan></text></g>
<g id="n_Fryk" class="n" transform="translate(1027.3,200)"><use href="#bx" class="cw" stroke="#777"/><text class="t" transform="rotate(-90)"><tspan x="0" y="-2">Fryk</tspan><tspan x="0" y="9">?</tspan></text></g>
<g id="n_Lov2" class="n" transform="translate(174,253.3)"><use href="#bx" class="c2" stroke="#777"/><text class="t" transform="rotate(-90)"><tspan x="0" y="-2">Löv2</tspan><tspan x="0" y="9">0,28</tspan></text></g>
<g id="n_Julu5" class="n" transform="translate(280.7,253.3)"><use href="#bx" class="c2" stroke="#777"/><text class="t" transform="rotate(-90)"><tspan x="0" y="-2">Julu5</tspan><tspan x="0" y="9">0,29</tspan></text></g>
<g id="n_Ock2" class="n" transform="translate(334,253.3)"><use href="#bx" class="c3" stroke="#777"/><text class="t" transform="rotate(-90)"><tspan x="0" y="-2">Ock2</tspan><tspan x="0" y="9">0,35</tspan></text></g>
<g id="n_App" class="n" transform="translate(387.3,253.3)"><use href="#bx" class="c2" stroke="#777"/><text class="t" transform="rotate(-90)"><tspan x="0" y="-2">Åpp</tspan><tspan x="0" y="9">0,28</tspan></text></g>
<g id="n_DE5" class="n" transform="translate(440.7,253.3)"><use href="#bx" class="c2" stroke="#777"/><text class="t" transform="rotate(-90)"><tspan x="0" y="-2">DE5</tspan><tspan x="0" y="9">0,26</tspan></text></g>
<g id="n_Osd2" class="n" transform="translate(494,253.3)"><use href="#bx" class="c2" stroke="#777"/><text class="t" transform="rotate(-90)"><tspan x="0" y="-2">Osd2</tspan><tspan x="0" y="9">0,28</tspan></text></g>
<g id="n_Krp3" class="n" transform="translate(547.3,253.3)"><use href="#bx" class="c3" stroke="#777"/><text class="t" transform="rotate(-90)"><tspan x="0" y="-2">Krp3</tspan><tspan x="0" y="9">0,33</tspan></text></g>
<g id="n_Klot" class="n" transform="translate(600.7,253.3)"><use href="#bx" class="c2" stroke="#777"/><text class="t" transform="rotate(-90)"><tspan x="0" y="-2">Klot</tspan><tspan x="0" y="9">0,30</tspan></text></g>
<g id="n_Bre1" class="n" transform="translate(654,253.3)"><use href="#bx" class="c2" stroke="#777"/><text class="t" transform="rotate(-90)"><tspan x="0" y="-2">Bre1</tspan><tspan x="0" y="9">0,29</tspan></text></g>
<g id="n_Gal" class="n" transform="translate(707.3,253.3)"><use href="#bx" class="c0" stroke="#777"/><text class="t" transform="rotate(-90)"><tspan x="0" y="-2">Gal</tspan><tspan x="0" y="9">0,00</tspan></text></g>
<g id="n_Snd1" class="n" transform="translate(760.7,253.3)"><use href="#bx" class="c2" stroke="#777"/><text class="t" transform="rotate(-90)"><tspan x="0" y="-2">Snd1</tspan><tspan x="0" y="9">0,28</tspan></text></g>
<g id="n_Ama" class="n" transform="translate(814,253.3)"><use href="#bx" class="c2" stroke="#777"/><text class="t" transform="rotate(-90)"><tspan x="0" y="-2">Amä</tspan><tspan x="0" y="9">0,27</tspan></text></g>
<g id="n_Sang1" class="n" transform="translate(867.3,253.3)"><use href="#bx" class="c4" stroke="#777"/><text class="t" transform="rotate(-90)"><tspan x="0" y="-2">Sång1</tspan><tspan x="0" y="9">0,49</tspan></text></g>
<g id="n_Kyn2" class="n" transform="translate(920.7,253.3)"><use href="#bx" class="c0" stroke="#777"/><text class="t" transform="rotate(-90)"><tspan x="0" y="-2">Kyn2</tspan><tspan x="0" y="9">0,00</tspan></text></g>
<g id="n_Ful" class="n" transform="translate(1027.3,253.3)"><use href="#bx" class="cw" stroke="#777"/><text class="t" transform="rotate(-90)"><tspan x="0" y="-2">Ful</tspan><tspan x="0" y="9">?</tspan></text></g>
<g id="n_Ack" class="n" transform="translate(227.3,306.7)"><use href="#bx" class="c3" stroke="#777"/><text class="t" transform="rotate(-90)"><tspan x="0" y="-2">Ack</tspan><tspan x="0" y="9">0,31</tspan></text></g>
<g id="n_Kors1" class="n" transform="translate(280.7,306.7)"><use href="#bx" class="c2" stroke="#777"/><text class="t" transform="rotate(-90)"><tspan x="0" y="-2">Kors1</tspan><tspan x="0" y="9">0,22</tspan></text></g>
<g id="n_Eds" class="n" transform="translate(334,306.7)"><use href="#bx" class="c2" stroke="#777"/><text class="t" transform="rotate(-90)"><tspan x="0" y="-2">Eds</tspan><tspan x="0" y="9">0,27</tspan></text></g>
<g id="n_Amu2" class="n" transform="translate(387.3,306.7)"><use href="#bx" class="c2" stroke="#777"/><text class="t" transform="rotate(-90)"><tspan x="0" y="-2">Amu2</tspan><tspan x="0" y="9">0,26</tspan></text></g>
<g id="n_Lang2" class="n" transform="translate(440.7,306.7)"><use href="#bx" class="c2" stroke="#777"/><text class="t" transform="rotate(-90)"><tspan x="0" y="-2">Lång2</tspan><tspan x="0" y="9">0,26</tspan></text></g>
<g id="n_Lok1" class="n" transform="translate(494,306.7)"><use href="#bx" class="c2" stroke="#777"/><text class="t" transform="rotate(-90)"><tspan x="0" y="-2">Lok1</tspan><tspan x="0" y="9">0,27</tspan></text></g>
<g id="n_Ten" class="n" transform="translate(547.3,306.7)"><use href="#bx" class="cw" stroke="#777"/><text class="t" transform="rotate(-90)"><tspan x="0" y="-2">Ten</tspan><tspan x="0" y="9">?</tspan></text></g>
<g id="n_Gos" class="n" transform="translate(600.7,306.7)"><use href="#bx" class="c2" stroke="#777"/><text class="t" transform="rotate(-90)"><tspan x="0" y="-2">Gös</tspan><tspan x="0" y="9">0,28</tspan></text></g>
<g id="n_IM1" class="n" transform="translate(654,306.7)"><rect class="cw" x="-10" y="-10" width="20" height="20"/><text class="t" transform="rotate(-90)" x="0" y="3.3">IM</text></g>
<g id="n_Skra1" class="n" transform="translate(707.3,306.7)"><use href="#bx" class="c4" stroke="#777"/><text class="t" transform="rotate(-90)"><tspan x="0" y="-2">Skrä1</tspan><tspan x="0" y="9">0,47</tspan></text></g>
<g id="n_Has3" class="n" transform="translate(814,306.7)"><use href="#bx" class="c2" stroke="#777"/><text class="t" transform="rotate(-90)"><tspan x="0" y="-2">Has3</tspan><tspan x="0" y="9">0,29</tspan></text></g>
<g id="n_IM2" class="n" transform="translate(920.7,306.7)"><rect class="cw" x="-10" y="-10" width="20" height="20"/><text class="t" transform="rotate(-90)" x="0" y="3.3">IM</text></g>
<g id="n_Ulr2" class="n" transform="translate(280.7,360)"><use href="#bx" class="c2" stroke="#777"/><text class="t" transform="rotate(-90)"><tspan x="0" y="-2">Ulr2</tspan><tspan x="0" y="9">0,22</tspan></text></g>
<g id="n_Lov1" class="n" transform="translate(334,360)"><use href="#bx" class="c4" stroke="#777"/><text class="t" transform="rotate(-90)"><tspan x="0" y="-2">Löv1</tspan><tspan x="0" y="9">0,44</tspan></text></g>
<g id="n_Lang1" class="n" transform="translate(440.7,360)"><use href="#bx" class="c4" stroke="#777"/><text class="t" transform="rotate(-90)"><tspan x="0" y="-2">Lång1</tspan><tspan x="0" y="9">0,42</tspan></text></g>
<g id="n_Krp2" class="n" transform="translate(494,360)"><use href="#bx" class="c2" stroke="#777"/><text class="t" transform="rotate(-90)"><tspan x="0" y="-2">Krp2</tspan><tspan x="0" y="9">0,30</tspan></text></g>
<g id="n_Hlg2" class="n" transform="translate(547.3,360)"><use href="#bx" class="c4" stroke="#777"/><text class="t" transform="rotate(-90)"><tspan x="0" y="-2">Hlg2</tspan><tspan x="0" y="9">0,44</tspan></text></g>
<g id="n_DE4" class="n" transform="translate(654,360)"><use href="#bx" class="c2" stroke="#777"/><text class="t" transform="rotate(-90)"><tspan x="0" y="-2">DE4</tspan><tspan x="0" y="9">0,29</tspan></text></g>
<g id="n_Jang3" class="n" transform="translate(920.7,360)"><use href="#bx" class="c3" stroke="#777"/><text class="t" transform="rotate(-90)"><tspan x="0" y="-2">Jang3</tspan><tspan x="0" y="9">0,32</tspan></text></g>
<g id="n_Tis" class="n" transform="translate(227.3,413.3)"><use href="#bx" class="c3" stroke="#777"/><text class="t" transform="rotate(-90)"><tspan x="0" y="-2">Tis</tspan><tspan x="0" y="9">0,30</tspan></text></g>
<g id="n_Sil1" class="n" transform="translate(334,413.3)"><use href="#bx" class="c2" stroke="#777"/><text class="t" transform="rotate(-90)"><tspan x="0" y="-2">Sil1</tspan><tspan x="0" y="9">0,23</tspan></text></g>
<g id="n_Julu3" class="n" transform="translate(494,413.3)"><use href="#bx" class="c3" stroke="#777"/><text class="t" transform="rotate(-90)"><tspan x="0" y="-2">Julu3</tspan><tspan x="0" y="9">0,32</tspan></text></g>
<g id="n_Vox" class="n" transform="translate(600.7,413.3)"><use href="#bx" class="c2" stroke="#777"/><text class="t" transform="rotate(-90)"><tspan x="0" y="-2">Vox</tspan><tspan x="0" y="9">0,29</tspan></text></g>
<g id="n_Kyn1" class="n" transform="translate(654,413.3)"><use href="#bx" class="c2" stroke="#777"/><text class="t" transform="rotate(-90)"><tspan x="0" y="-2">Kyn1</tspan><tspan x="0" y="9">0,29</tspan></text></g>
<g id="n_Gra1" class="n" transform="translate(760.7,413.3)"><use href="#bx" class="c2" stroke="#777"/><text class="t" transform="rotate(-90)"><tspan x="0" y="-2">Grä1</tspan><tspan x="0" y="9">0,27</tspan></text></g>
<g id="n_Rot1" class="n" transform="translate(814,413.3)"><use href="#bx" class="c2" stroke="#777"/><text class="t" transform="rotate(-90)"><tspan x="0" y="-2">Rot1</tspan><tspan x="0" y="9">0,27</tspan></text></g>
<g id="n_Fh" class="n" transform="translate(974,413.3)"><use href="#bx" class="c2" stroke="#777"/><text class="t" transform="rotate(-90)"><tspan x="0" y="-2">Fh</tspan><tspan x="0" y="9">0,29</tspan></text></g>
<g id="n_Nag" class="n" transform="translate(1027.3,413.3)"><use href="#bx" class="c2" stroke="#777"/><text class="t" transform="rotate(-90)"><tspan x="0" y="-2">Nag</tspan><tspan x="0" y="9">0,30</tspan></text></g>
<g id="n_Krp1" class="n" transform="translate(387.3,466.7)"><use href="#bx" class="c4" stroke="#777"/><text class="t" transform="rotate(-90)"><tspan x="0" y="-2">Krp1</tspan><tspan x="0" y="9">0,44</tspan></text></g>
<g id="n_Amu1" class="n" transform="translate(440.7,466.7)"><use href="#bx" class="c2" stroke="#777"/><text class="t" transform="rotate(-90)"><tspan x="0" y="-2">Amu1</tspan><tspan x="0" y="9">0,23</tspan></text></g>
<g id="n_Hlg1" class="n" transform="translate(494,466.7)"><use href="#bx" class="c2" stroke="#777"/><text class="t" transform="rotate(-90)"><tspan x="0" y="-2">Hlg1</tspan><tspan x="0" y="9">0,24</tspan></text></g>
<g id="n_DE3" class="n" transform="translate(547.3,466.7)"><use href="#bx" class="c2" stroke="#777"/><text class="t" transform="rotate(-90)"><tspan x="0" y="-2">DE3</tspan><tspan x="0" y="9">0,28</tspan></text></g>
<g id="n_Utt" class="n" transform="translate(654,466.7)"><use href="#bx" class="c3" stroke="#777"/><text class="t" transform="rotate(-90)"><tspan x="0" y="-2">Utt</tspan><tspan x="0" y="9">0,30</tspan></text></g>
<g id="n_Kop3" class="n" transform="translate(867.3,466.7)"><use href="#bx" class="c4" stroke="#777"/><text class="t" transform="rotate(-90)"><tspan x="0" y="-2">Kop3</tspan><tspan x="0" y="9">0,44</tspan></text></g>
<g id="n_Jang1" class="n" transform="translate(920.7,466.7)"><use href="#bx" class="c2" stroke="#777"/><text class="t" transform="rotate(-90)"><tspan x="0" y="-2">Jang1</tspan><tspan x="0" y="9">0,30</tspan></text></g>
<g id="n_Kil" class="n" transform="translate(227.3,520)"><use href="#bx" class="c2" stroke="#777"/><text class="t" transform="rotate(-90)"><tspan x="0" y="-2">Kil</tspan><tspan x="0" y="9">0,26</tspan></text></g>
<g id="n_Dju1" class="n" transform="translate(280.7,520)"><use href="#bx" class="c2" stroke="#777"/><text class="t" transform="rotate(-90)"><tspan x="0" y="-2">Dju1</tspan><tspan x="0" y="9">0,24</tspan></text></g>
<g id="n_Julu1" class="n" transform="translate(387.3,520)"><use href="#bx" class="c2" stroke="#777"/><text class="t" transform="rotate(-90)"><tspan x="0" y="-2">Julu1</tspan><tspan x="0" y="9">0,26</tspan></text></g>
<g id="n_Y" class="n" transform="translate(654,520)"><use href="#bx" class="c2" stroke="#777"/><text class="t" transform="rotate(-90)"><tspan x="0" y="-2">Y</tspan><tspan x="0" y="9">0,30</tspan></text></g>
<g id="n_Sta" class="n" transform="translate(707.3,520)"><use href="#bx" class="c3" stroke="#777"/><text class="t" transform="rotate(-90)"><tspan x="0" y="-2">Sta</tspan><tspan x="0" y="9">0,31</tspan></text></g>
<g id="n_DE2" class="n" transform="translate(600.7,573.3)"><use href="#bx" class="c3" stroke="#777"/><text class="t" transform="rotate(-90)"><tspan x="0" y="-2">DE2</tspan><tspan x="0" y="9">0,40</tspan></text></g>
<g id="n_Kop2" class="n" transform="translate(814,573.3)"><use href="#bx" class="c2" stroke="#777"/><text class="t" transform="rotate(-90)"><tspan x="0" y="-2">Kop2</tspan><tspan x="0" y="9">0,27</tspan></text></g>
<g id="n_Has2" class="n" transform="translate(867.3,573.3)"><use href="#bx" class="c4" stroke="#777"/><text class="t" transform="rotate(-90)"><tspan x="0" y="-2">Has2</tspan><tspan x="0" y="9">0,43</tspan></text></g>
<g id="n_Sto" class="n" transform="translate(920.7,573.3)"><use href="#bx" class="c2" stroke="#777"/><text class="t" transform="rotate(-90)"><tspan x="0" y="-2">Sto</tspan><tspan x="0" y="9">0,30</tspan></text></g>
<g id="n_Tyn" class="n" transform="translate(280.7,626.7)"><use href="#bx" class="c2" stroke="#777"/><text class="t" transform="rotate(-90)"><tspan x="0" y="-2">Tyn</tspan><tspan x="0" y="9">0,21</tspan></text></g>
<g id="n_Ock1" class="n" transform="translate(334,626.7)"><use href="#bx" class="c1" stroke="#777"/><text class="t" transform="rotate(-90)"><tspan x="0" y="-2">Ock1</tspan><tspan x="0" y="9">0,19</tspan></text></g>
<g id="n_Fur" class="n" transform="translate(387.3,626.7)"><use href="#bx" class="c1" stroke="#777"/><text class="t" transform="rotate(-90)"><tspan x="0" y="-2">Fur</tspan><tspan x="0" y="9">0,19</tspan></text></g>
<g id="n_Gra" class="n" transform="translate(707.3,626.7)"><use href="#bx" class="c2" stroke="#777"/><text class="t" transform="rotate(-90)"><tspan x="0" y="-2">Grå</tspan><tspan x="0" y="9">0,30</tspan></text></g>
<g id="n_Gran" class="n" transform="translate(334,680)"><use href="#bx" class="c2" stroke="#777"/><text class="t" transform="rotate(-90)"><tspan x="0" y="-2">Gran</tspan><tspan x="0" y="9">0,22</tspan></text></g>
<g id="n_Gla1" class="n" transform="translate(440.7,680)"><use href="#bx" class="c2" stroke="#777"/><text class="t" transform="rotate(-90)"><tspan x="0" y="-2">Gla1</tspan><tspan x="0" y="9">0,30</tspan></text></g>
<g id="n_Ny5" class="n" transform="translate(547.3,680)"><use href="#bx" class="c2" stroke="#777"/><text class="t" transform="rotate(-90)"><tspan x="0" y="-2">Ny5</tspan><tspan x="0" y="9">0,27</tspan></text></g>
<g id="n_Grav" class="n" transform="translate(654,680)"><use href="#bx" class="c2" stroke="#777"/><text class="t" transform="rotate(-90)"><tspan x="0" y="-2">Grav</tspan><tspan x="0" y="9">0,27</tspan></text></g>
<g id="n_Mos" class="n" transform="translate(760.7,680)"><use href="#bx" class="c3" stroke="#777"/><text class="t" transform="rotate(-90)"><tspan x="0" y="-2">Mos</tspan><tspan x="0" y="9">0,36</tspan></text></g>
<g id="n_Has1" class="n" transform="translate(867.3,680)"><use href="#bx" class="c3" stroke="#777"/><text class="t" transform="rotate(-90)"><tspan x="0" y="-2">Has1</tspan><tspan x="0" y="9">0,30</tspan></text></g>
<g id="n_Atn" class="n" transform="translate(334,733.3)"><use href="#bx" class="cw" stroke="#777"/><text class="t" transform="rotate(-90)"><tspan x="0" y="-2">Atn</tspan><tspan x="0" y="9">?</tspan></text></g>
<g id="n_Bgr" class="n" transform="translate(920.7,733.3)"><use href="#bx" class="c3" stroke="#777"/><text class="t" transform="rotate(-90)"><tspan x="0" y="-2">Bgr</tspan><tspan x="0" y="9">0,31</tspan></text></g>
<g id="n_Fil" class="n" transform="translate(974,786.7)"><use href="#bx" class="c2" stroke="#777"/><text class="t" transform="rotate(-90)"><tspan x="0" y="-2">Fil</tspan><tspan x="0" y="9">0,28</tspan></text></g>
<g id="n_Le1" class="n" transform="translate(494,840)"><use href="#bx" class="c1" stroke="#777"/><text class="t" transform="rotate(-90)"><tspan x="0" y="-2">Le1</tspan><tspan x="0" y="9">0,19</tspan></text></g>
<g id="n_Arj" class="n" transform="translate(600.7,840)"><use href="#bx" class="c2" stroke="#777"/><text class="t" transform="rotate(-90)"><tspan x="0" y="-2">Årj</tspan><tspan x="0" y="9">0,23</tspan></text></g>
<g id="n_Kop1" class="n" transform="translate(707.3,840)"><use href="#bx" class="c2" stroke="#777"/><text class="t" transform="rotate(-90)"><tspan x="0" y="-2">Kop1</tspan><tspan x="0" y="9">0,23</tspan></text></g>
<g id="n_DE1" class="n" transform="translate(814,840)"><use href="#bx" class="cw" stroke="#777"/><text class="t" transform="rotate(-90)"><tspan x="0" y="-2">DE1</tspan><tspan x="0" y="9">?</tspan></text></g>
<g id="n_Mitt" class="n" transform="translate(387.3,893.3)"><use href="#bx" class="cw" stroke="#777"/><text class="t" transform="rotate(-90)"><tspan x="0" y="-2">Mitt</tspan><tspan x="0" y="9">?</tspan></text></g>
<g id="n_x" class="n" transform="translate(547.3,893.3)"><ellipse class="cw" cx="0" cy="0" rx="10" ry="9"/><text class="t" transform="rotate(-90)" x="0" y="3">x</text></g>
<g id="n_Hag2" class="n" transform="translate(654,946.7)"><use href="#bx" class="c1" stroke="#777"/><text class="t" transform="rotate(-90)"><tspan x="0" y="-2">Hag2</tspan><tspan x="0" y="9">0,13</tspan></text></g>
<g id="n_Fre" class="n" transform="translate(547.3,1000)"><use href="#bx" class="c1" stroke="#777"/><text class="t" transform="rotate(-90)"><tspan x="0" y="-2">Fre</tspan><tspan x="0" y="9">0,13</tspan></text></g>
<g id="n_Hag1" class="n" transform="translate(760.7,1053.3)"><use href="#bx" class="c1" stroke="#777"/><text class="t" transform="rotate(-90)"><tspan x="0" y="-2">Hag1</tspan><tspan x="0" y="9">0,13</tspan></text></g>
<g id="n_Ny4b" class="n" transform="translate(814,1106.7)"><use href="#bx" class="c3" stroke="#777"/><text class="t" transform="rotate(-90)"><tspan x="0" y="-2">Ny4b</tspan><tspan x="0" y="9">0,38</tspan></text></g>
<g id="n_Gh" class="n" transform="translate(494,1160)"><use href="#bx" class="c0" stroke="#777"/><text class="t" transform="rotate(-90)"><tspan x="0" y="-2">Gh</tspan><tspan x="0" y="9">0,00</tspan></text></g>
<g id="n_Ny4a" class="n" transform="translate(654,1160)"><use href="#bx" class="c3" stroke="#777"/><text class="t" transform="rotate(-90)"><tspan x="0" y="-2">Ny4a</tspan><tspan x="0" y="9">0,38</tspan></text></g>
<g id="n_IM3" class="n" transform="translate(440.7,1213.3)"><rect class="cw" x="-10" y="-10" width="20" height="20"/><text class="t" transform="rotate(-90)" x="0" y="3.3">IM</text></g>
<g id="n_Ny3" class="n" transform="translate(600.7,1320)"><use href="#bx" class="c2" stroke="#777"/><text class="t" transform="rotate(-90)"><tspan x="0" y="-2">Ny3</tspan><tspan x="0" y="9">0,25</tspan></text></g>
<g id="n_Ny2" class="n" transform="translate(707.3,1373.3)"><use href="#bx" class="c2" stroke="#777"/><text class="t" transform="rotate(-90)"><tspan x="0" y="-2">Ny2</tspan><tspan x="0" y="9">0,25</tspan></text></g>
<g id="n_Ny1" class="n" transform="translate(654,1586.7)"><use href="#bx" class="c0" stroke="#777"/><text class="t" transform="rotate(-90)"><tspan x="0" y="-2">Ny1</tspan><tspan x="0" y="9">0,00</tspan></text></g>
<g id="n_IM4" class="n" transform="translate(600.7,1640)"><rect class="cw" x="-10" y="-10" width="20" height="20"/><text class="t" transform="rotate(-90)" x="0" y="3.3">IM</text></g>
<g id="n_IM5" class="n" transform="translate(707.3,1640)"><rect class="cw" x="-10" y="-10" width="20" height="20"/><text class="t" transform="rotate(-90)" x="0" y="3.3">IM</text></g>
</g>
<g id="legend">
<line x1="1035" y1="1605" x2="1035" y2="1644" class="r"/>
<line x1="1060.5" y1="1605" x2="1060.5" y2="1644" class="b"/>
<text class="lg" transform="translate(1041,1593) rotate(-90)">Tikens ursprung</text>
<text class="lg" transform="translate(1068,1593) rotate(-90)">Hanens ursprung</text>
<rect x="1133" y="1441" width="13.5" height="40" fill="#ff0000" stroke="#888"/>
<rect x="1133" y="1481" width="13.5" height="40" fill="#faa95b" stroke="#888"/>
<rect x="1133" y="1521" width="13.5" height="40" fill="#ffff00" stroke="#888"/>
<rect x="1133" y="1561" width="13.5" height="40" fill="#1a6bff" stroke="#888"/>
<rect x="1133" y="1601" width="13.5" height="40" fill="#a9c9f7" stroke="#888"/>
<text class="sc" transform="translate(1130,1441) rotate(-90)">0,5</text>
<text class="sc" transform="translate(1130,1481) rotate(-90)">0,4</text>
<text class="sc" transform="translate(1130,1521) rotate(-90)">0,3</text>
<text class="sc" transform="translate(1130,1561) rotate(-90)">0,2</text>
<text class="sc" transform="translate(1130,1601) rotate(-90)">0,1</text>
<text class="sc" transform="translate(1130,1641) rotate(-90)">0</text>
<text class="lg" text-anchor="middle" transform="translate(1174,1542) rotate(-90)">Inavelskoefficient</text>
</g>
</svg>
